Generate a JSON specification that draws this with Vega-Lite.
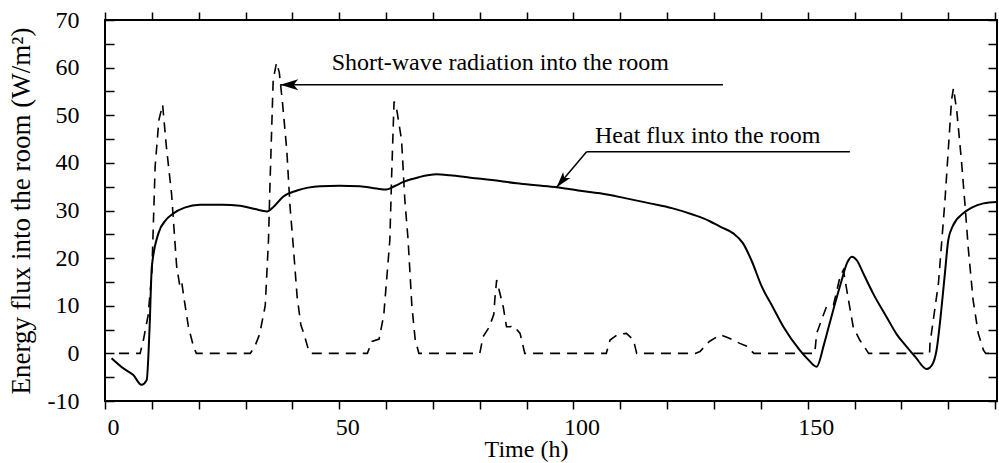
{
  "$schema": "https://vega.github.io/schema/vega-lite/v6.json",
  "width": 892,
  "height": 381,
  "autosize": {"type": "none"},
  "padding": {"left": 105, "top": 20, "right": 2, "bottom": 62},
  "background": "white",
  "config": {
    "view": {"stroke": "black", "strokeWidth": 2},
    "font": "Liberation Serif",
    "axis": {
      "domain": false,
      "grid": false,
      "labelFont": "Liberation Serif",
      "labelFontSize": 24,
      "labelColor": "black",
      "labelFlush": false,
      "labelOverlap": false,
      "labelBound": false,
      "titleFont": "Liberation Serif",
      "titleFontWeight": "normal",
      "titleColor": "black"
    }
  },
  "datasets": {
    "heat": [
      {"t": 1.4, "v": -1.0}, {"t": 4, "v": -3.2}, {"t": 6, "v": -4.5}, {"t": 7.8, "v": -6.6},
      {"t": 8.9, "v": -5.6}, {"t": 9.5, "v": 5}, {"t": 10, "v": 18.2}, {"t": 11.4, "v": 25.2},
      {"t": 13, "v": 28}, {"t": 14.6, "v": 29.4}, {"t": 17, "v": 30.6}, {"t": 20.3, "v": 31.2},
      {"t": 25, "v": 31.2}, {"t": 28.8, "v": 31.0}, {"t": 32, "v": 30.3}, {"t": 34.6, "v": 29.8},
      {"t": 36, "v": 30.8}, {"t": 38, "v": 32.9}, {"t": 41, "v": 34.2}, {"t": 45.9, "v": 35.1},
      {"t": 50, "v": 35.2}, {"t": 54.4, "v": 35.1}, {"t": 58, "v": 34.6}, {"t": 60.1, "v": 34.4},
      {"t": 62, "v": 35.2}, {"t": 63.7, "v": 36}, {"t": 67, "v": 37}, {"t": 70.8, "v": 37.6},
      {"t": 73.6, "v": 37.4}, {"t": 78, "v": 36.9}, {"t": 84.3, "v": 36.2}, {"t": 87.9, "v": 35.7},
      {"t": 92, "v": 35.3}, {"t": 96.4, "v": 34.9}, {"t": 101, "v": 34.2}, {"t": 105.7, "v": 33.6},
      {"t": 111, "v": 32.6}, {"t": 116.3, "v": 31.5}, {"t": 121, "v": 30.5}, {"t": 125.6, "v": 29.1},
      {"t": 129, "v": 27.8}, {"t": 131.3, "v": 26.6}, {"t": 134.1, "v": 25.2}, {"t": 136.2, "v": 23.1},
      {"t": 138, "v": 19.5}, {"t": 140.2, "v": 14}, {"t": 142.5, "v": 9.8}, {"t": 144.8, "v": 5.6},
      {"t": 148.3, "v": 0.7}, {"t": 150, "v": -1.2}, {"t": 151.9, "v": -2.8}, {"t": 153.5, "v": 2},
      {"t": 155, "v": 7.5}, {"t": 157, "v": 14.5}, {"t": 158.4, "v": 19}, {"t": 159.4, "v": 20.3},
      {"t": 160.5, "v": 19.5}, {"t": 162, "v": 16.5}, {"t": 164, "v": 12.5}, {"t": 166.8, "v": 7.7},
      {"t": 169, "v": 4}, {"t": 171.1, "v": 1.4}, {"t": 173, "v": -0.8}, {"t": 175.4, "v": -3.3},
      {"t": 176.5, "v": -2.5}, {"t": 177.5, "v": 0.7}, {"t": 178.5, "v": 9}, {"t": 179.3, "v": 17},
      {"t": 180, "v": 23.8}, {"t": 181, "v": 26.8}, {"t": 183.2, "v": 29.4}, {"t": 185, "v": 30.6},
      {"t": 187.5, "v": 31.5}, {"t": 190.4, "v": 31.8}
    ],
    "short": [
      {"t": 3, "v": 0}, {"t": 7.5, "v": 0}, {"t": 8.2, "v": 2.8}, {"t": 9.2, "v": 8},
      {"t": 10, "v": 16.8}, {"t": 10.7, "v": 39.2}, {"t": 11.5, "v": 49}, {"t": 12.3, "v": 52.2},
      {"t": 13.1, "v": 43.4}, {"t": 14.2, "v": 33.6}, {"t": 15.3, "v": 18.2}, {"t": 16.0, "v": 14.0},
      {"t": 16.4, "v": 14.8}, {"t": 16.8, "v": 12}, {"t": 17.8, "v": 5.6}, {"t": 18.9, "v": 1.4},
      {"t": 19.5, "v": 0}, {"t": 31, "v": 0}, {"t": 32, "v": 1.5}, {"t": 33, "v": 4},
      {"t": 34.2, "v": 10}, {"t": 34.9, "v": 23.8}, {"t": 35.2, "v": 35}, {"t": 35.9, "v": 57.4},
      {"t": 36.6, "v": 61.0}, {"t": 37.2, "v": 59}, {"t": 37.9, "v": 52.5}, {"t": 38.8, "v": 42.7},
      {"t": 39.5, "v": 30.8}, {"t": 40.2, "v": 22.4}, {"t": 41, "v": 12}, {"t": 41.8, "v": 6},
      {"t": 42.5, "v": 4}, {"t": 43.5, "v": 0.5}, {"t": 44, "v": 0}, {"t": 56, "v": 0},
      {"t": 57, "v": 2.5}, {"t": 58.5, "v": 3}, {"t": 59.5, "v": 8}, {"t": 60.8, "v": 23.8},
      {"t": 61.2, "v": 37.8}, {"t": 61.7, "v": 52.9}, {"t": 62.3, "v": 51}, {"t": 63.3, "v": 44.8},
      {"t": 64, "v": 32.2}, {"t": 64.7, "v": 23.8}, {"t": 65.5, "v": 10}, {"t": 66.2, "v": 3},
      {"t": 67, "v": 0}, {"t": 80, "v": 0}, {"t": 80.7, "v": 3.5}, {"t": 82, "v": 5.5},
      {"t": 83, "v": 8.2}, {"t": 83.2, "v": 11.2}, {"t": 83.6, "v": 15.4}, {"t": 84.2, "v": 13},
      {"t": 85, "v": 9.8}, {"t": 85.7, "v": 5.6}, {"t": 86.5, "v": 5.6}, {"t": 87.2, "v": 5.8},
      {"t": 88.6, "v": 4.2}, {"t": 89.6, "v": 0}, {"t": 107, "v": 0}, {"t": 107.8, "v": 2.8},
      {"t": 109.5, "v": 4.0}, {"t": 111.3, "v": 4.2}, {"t": 112.8, "v": 2.8}, {"t": 113.5, "v": 0},
      {"t": 126, "v": 0}, {"t": 127, "v": 0.4}, {"t": 129, "v": 2.5}, {"t": 131.3, "v": 3.9},
      {"t": 133, "v": 3.3}, {"t": 135.5, "v": 2.1}, {"t": 137, "v": 1.5}, {"t": 138.5, "v": 0},
      {"t": 151.5, "v": 0}, {"t": 151.9, "v": 4.2}, {"t": 154, "v": 9.8}, {"t": 155.5, "v": 10.2},
      {"t": 156.9, "v": 16.1}, {"t": 157.6, "v": 17.5}, {"t": 158.7, "v": 11.2}, {"t": 159.7, "v": 5.6},
      {"t": 161.1, "v": 2.8}, {"t": 162, "v": 1.5}, {"t": 163, "v": 0}, {"t": 176, "v": 0},
      {"t": 176.1, "v": 2.1}, {"t": 177.9, "v": 14.7}, {"t": 179.3, "v": 32.2}, {"t": 180, "v": 42.7},
      {"t": 180.7, "v": 53.2}, {"t": 181.1, "v": 55.7}, {"t": 181.8, "v": 51.1}, {"t": 182.8, "v": 40.6},
      {"t": 183.6, "v": 30.8}, {"t": 184.3, "v": 21.7}, {"t": 185.3, "v": 11.2}, {"t": 186.4, "v": 4.2},
      {"t": 187.5, "v": 0.7}, {"t": 188, "v": 0}, {"t": 190.4, "v": 0}
    ],
    "leaders": [
      {"t": 37.4, "v": 56.4, "t2": 131.9, "v2": 56.4},
      {"t": 102.8, "v": 42.35, "t2": 159, "v2": 42.35},
      {"t": 102.8, "v": 42.35, "t2": 96.4, "v2": 34.9}
    ],
    "labels": [
      {"t": 48.4, "v": 59.5, "text": "Short-wave radiation into the room"},
      {"t": 104.6, "v": 44.2, "text": "Heat flux into the room"}
    ]
  },
  "resolve": {"axis": {"x": "independent", "y": "independent"}},
  "layer": [
    {
      "data": {"name": "heat"},
      "mark": {"type": "line", "color": "black", "strokeWidth": 2, "interpolate": "monotone"},
      "encoding": {
        "x": {
          "field": "t", "type": "quantitative",
          "scale": {"domain": [0, 190.4], "nice": false, "zero": false},
          "axis": {
            "orient": "bottom",
            "zindex": 1,
            "ticks": true,
            "tickColor": "black",
            "tickWidth": 1.5,
            "values": [0, 10, 20, 30, 40, 50, 60, 70, 80, 90, 100, 110, 120, 130, 140, 150, 160, 170, 180, 190],
            "tickSize": 8,
            "labelExpr": "datum.value % 50 === 0 ? datum.label : ''",
            "labelPadding": 6,
            "labelOffset": 8,
            "title": "Time (h)",
            "titleFontSize": 24,
            "titleX": 421,
            "titleY": 55,
            "titleBaseline": "alphabetic"
          }
        },
        "y": {
          "field": "v", "type": "quantitative",
          "scale": {"domain": [-10, 70], "nice": false, "zero": false},
          "axis": {
            "orient": "left",
            "zindex": 1,
            "ticks": true,
            "tickColor": "black",
            "tickWidth": 1.5,
            "values": [-10, -5, 0, 5, 10, 15, 20, 25, 30, 35, 40, 45, 50, 55, 60, 65, 70],
            "tickSize": -9,
            "labelExpr": "datum.value % 10 === 0 ? '' + datum.value : ''",
            "labelPadding": 35,
            "title": "Energy flux into the room (W/m²)",
            "titleFontSize": 27,
            "titlePadding": 12
          }
        }
      }
    },
    {
      "data": {"name": "short"},
      "mark": {"type": "line", "color": "black", "strokeWidth": 1.6, "strokeDash": [10, 7]},
      "encoding": {
        "x": {"field": "t", "type": "quantitative", "axis": null},
        "y": {"field": "v", "type": "quantitative", "axis": null}
      }
    },
    {
      "data": {"name": "leaders"},
      "mark": {"type": "rule", "color": "black", "strokeWidth": 1.5},
      "encoding": {
        "x": {"field": "t", "type": "quantitative", "axis": null},
        "y": {"field": "v", "type": "quantitative", "axis": null},
        "x2": {"field": "t2"},
        "y2": {"field": "v2"}
      }
    },
    {
      "data": {"values": [{"t": 37.4, "v": 56.4}]},
      "mark": {"type": "point", "shape": "M 0 0 L 1 -0.3 L 0.75 0 L 1 0.3 Z", "filled": true, "color": "black", "opacity": 1, "size": 1296, "angle": 0},
      "encoding": {
        "x": {"field": "t", "type": "quantitative", "axis": null},
        "y": {"field": "v", "type": "quantitative", "axis": null}
      }
    },
    {
      "data": {"values": [{"t": 96.4, "v": 34.9}]},
      "mark": {"type": "point", "shape": "M 0 0 L 1 -0.3 L 0.75 0 L 1 0.3 Z", "filled": true, "color": "black", "opacity": 1, "size": 1000, "angle": 310},
      "encoding": {
        "x": {"field": "t", "type": "quantitative", "axis": null},
        "y": {"field": "v", "type": "quantitative", "axis": null}
      }
    },
    {
      "data": {"name": "labels"},
      "mark": {"type": "text", "align": "left", "baseline": "alphabetic", "font": "Liberation Serif", "fontSize": 24, "color": "black"},
      "encoding": {
        "x": {
          "field": "t", "type": "quantitative",
          "axis": {
            "orient": "top",
            "ticks": true,
            "tickColor": "black",
            "tickWidth": 1.5,
            "values": [0, 10, 20, 30, 40, 50, 60, 70, 80, 90, 100, 110, 120, 130, 140, 150, 160, 170, 180, 190],
            "tickSize": 8,
            "labels": false,
            "title": null
          }
        },
        "y": {
          "field": "v", "type": "quantitative",
          "axis": {
            "orient": "right",
            "ticks": true,
            "tickColor": "black",
            "tickWidth": 1.5,
            "values": [-10, -5, 0, 5, 10, 15, 20, 25, 30, 35, 40, 45, 50, 55, 60, 65, 70],
            "tickSize": -9,
            "labels": false,
            "title": null
          }
        },
        "text": {"field": "text"}
      }
    }
  ]
}
